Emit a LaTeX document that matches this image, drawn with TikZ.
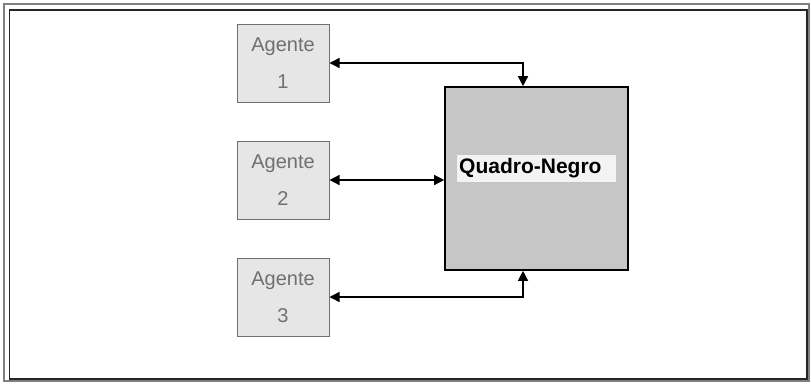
\documentclass[tikz,border=0pt]{standalone}
\usepackage{fontspec}
\setmainfont{Liberation Sans}
\usetikzlibrary{arrows.meta}
\definecolor{agentfill}{HTML}{E6E6E6}
\definecolor{boardfill}{HTML}{C6C6C6}
\definecolor{labelfill}{HTML}{F3F3F3}
\definecolor{agenttext}{HTML}{707070}
\tikzset{
  agentbox/.style={draw=agenttext, line width=1pt, fill=agentfill,
    minimum width=92pt, minimum height=78pt, inner sep=0pt,
    align=center, text=agenttext, font=\fontsize{20}{37}\selectfont},
  board/.style={draw=black, line width=1.6pt, fill=boardfill,
    minimum width=183pt, minimum height=183pt, inner sep=0pt},
  boardlabel/.style={fill=labelfill, inner xsep=2pt, inner ysep=4pt,
    text width=155pt, align=left,
    font=\fontsize{21}{24}\selectfont\bfseries, text=black},
  link/.style={line width=1.3pt, draw=black,
    {Triangle[length=10pt,width=10pt]}-{Triangle[length=10pt,width=10pt]}},
}
\begin{document}
\begin{tikzpicture}[x=1pt,y=-1pt]
  \useasboundingbox (0,0) rectangle (811,384);
  % window frame
  \draw[line width=1.2pt, draw=gray] (4,4) rectangle (809,381);
  \draw[line width=1.2pt, draw=black!85] (9.5,10) rectangle (807,379);

  % agents
  \node[agentbox] (a1) at (283,63) {\raisebox{-2pt}{Agente}\\\raisebox{-2pt}{1}};
  \node[agentbox] (a2) at (283,180) {\raisebox{-2pt}{Agente}\\\raisebox{-2pt}{2}};
  \node[agentbox] (a3) at (283,297) {\raisebox{-2pt}{Agente}\\\raisebox{-2pt}{3}};

  % blackboard
  \node[board] (q) at (536.5,178.5) {};
  \node[boardlabel, anchor=west] (ql) at (457,168.5) {Quadro-Negro};

  % connectors
  \draw[link] (a1.east) -| ([xshift=-13.5pt]q.north);
  \draw[link] (a2.east) -- (a2.east -| q.west);
  \draw[link] (a3.east) -| ([xshift=-13.5pt]q.south);
\end{tikzpicture}
\end{document}
